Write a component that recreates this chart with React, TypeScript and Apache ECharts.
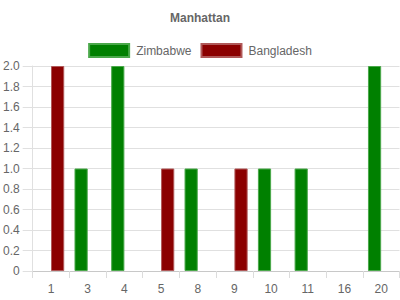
import React, { useEffect, useRef } from "react";
import * as echarts from "echarts";

const categories = ["1", "3", "4", "5", "8", "9", "10", "11", "16", "20"];
const zimbabwe = [0, 1, 2, 0, 1, 0, 1, 1, 0, 2];
const bangladesh = [2, 0, 0, 1, 0, 1, 0, 0, 0, 0];

const FONT = "'Liberation Sans', Arial, Helvetica, sans-serif";

const hideZero = (arr: number[]) => arr.map((v) => (v === 0 ? null : v));

export default function App() {
  const ref = useRef<HTMLDivElement>(null);
  useEffect(() => {
    if (!ref.current) return;
    const chart = echarts.init(ref.current, undefined, { renderer: "svg" });
    chart.setOption({
      animation: false,
      textStyle: { fontFamily: FONT },
      title: {
        text: "Manhattan",
        left: "center",
        top: 7,
        textStyle: { fontSize: 12, fontWeight: "bold", color: "#666", fontFamily: FONT },
      },
      legend: {
        top: 43,
        left: "center",
        icon: "rect",
        itemWidth: 40,
        itemHeight: 13,
        itemGap: 9,
        padding: 0,
        textStyle: { fontSize: 12, color: "#666", fontFamily: FONT, padding: [0, 0, 0, 2] },
        data: ["Zimbabwe", "Bangladesh"],
      },
      grid: { left: 32, right: 0.5, top: 66, bottom: 29, containLabel: false },
      xAxis: {
        type: "category",
        data: categories,
        boundaryGap: true,
        axisLine: { show: true, lineStyle: { color: "#c8c8c8", width: 1 } },
        axisTick: { show: true, length: 7, lineStyle: { color: "#dcdcdc" } },
        axisLabel: { color: "#666", fontSize: 12, margin: 12, fontFamily: FONT },
        splitLine: { show: false },
      },
      yAxis: {
        type: "value",
        min: 0,
        max: 2,
        interval: 0.2,
        axisLine: { show: true, lineStyle: { color: "#e0e0e0" } },
        axisTick: { show: true, length: 10, lineStyle: { color: "#e0e0e0" } },
        axisLabel: {
          color: "#666",
          fontSize: 12,
          margin: 13,
          fontFamily: FONT,
          formatter: (v: number) => (v === 0 ? "0" : v.toFixed(1)),
        },
        splitLine: { show: true, lineStyle: { color: "#e0e0e0" } },
      },
      series: [
        {
          name: "Zimbabwe",
          type: "bar",
          data: hideZero(zimbabwe),
          barGap: "0%",
          barCategoryGap: "28%",
          itemStyle: { color: "#008000", borderColor: "#4aa84a", borderWidth: 1 },
        },
        {
          name: "Bangladesh",
          type: "bar",
          data: hideZero(bangladesh),
          barGap: "0%",
          barCategoryGap: "28%",
          itemStyle: { color: "#8b0000", borderColor: "#b05858", borderWidth: 1 },
        },
      ],
    });
    return () => chart.dispose();
  }, []);
  return <div ref={ref} style={{ width: 400, height: 300, position: "absolute", left: 0, top: 0 }} />;
}
